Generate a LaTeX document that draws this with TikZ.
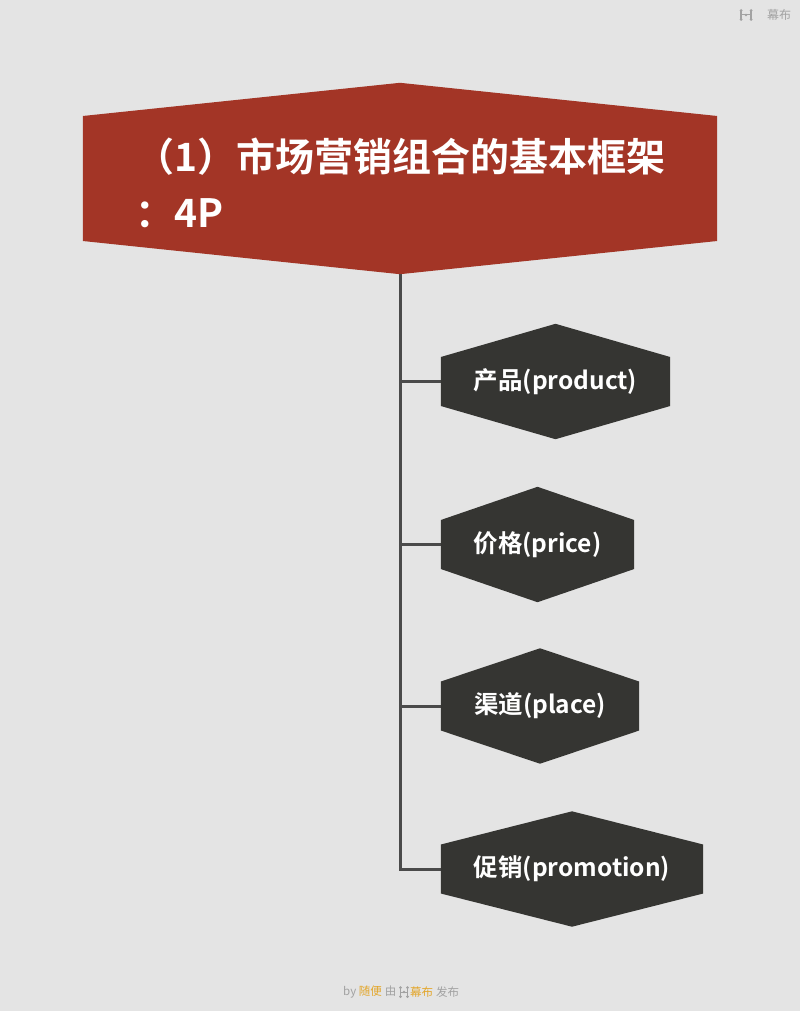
\documentclass[tikz,border=0pt]{standalone}
\usepackage{fontspec}
\setmainfont{Noto Sans CJK SC}
\newfontfamily\cjkb{Noto Sans CJK SC Bold}
\newfontfamily\cjkr{Noto Sans CJK SC}
\definecolor{bgc}{HTML}{E4E4E4}
\definecolor{redc}{HTML}{A33526}
\definecolor{darkc}{HTML}{353532}
\definecolor{linec}{HTML}{4A4A4A}
\definecolor{grayt}{HTML}{A2A2A2}
\definecolor{orangec}{HTML}{E3A62A}
\tikzset{
  child/.style={minimum height=115pt, inner sep=0pt, text=white,
    font={\cjkb\fontsize{24.5}{28}\selectfont}},
  conn/.style={draw=linec, line width=3pt},
}
\newcommand{\hexpath}[2]{% node name, colour
  \fill[#2] ([yshift=24.5pt]#1.west) -- (#1.north) -- ([yshift=24.5pt]#1.east)
    -- ([yshift=-24.5pt]#1.east) -- (#1.south) -- ([yshift=-24.5pt]#1.west) -- cycle;}
\newcommand{\mblogo}[3]{% x y center, half width
  \begin{scope}[shift={(#1,#2)}, grayt]
    \fill (-#3,-4.5) circle (1.5pt); \fill (-#3,4.5) circle (1.5pt);
    \fill (#3,-4.5) circle (1.5pt); \fill (#3,4.5) circle (1.5pt);
    \draw[line width=1.2pt] (-#3,-4.5) -- (-#3,4.5);
    \draw[line width=1.2pt] (#3,-4.5) -- (#3,4.5);
    \fill (0,0) circle (1.4pt);
    \draw[line width=1pt] (-#3,0) -- (#3,0);
  \end{scope}}
\begin{document}
\begin{tikzpicture}[x=1pt, y=-1pt]
\fill[bgc] (0,0) rectangle (800,1011);
\useasboundingbox (0,0) rectangle (800,1011);

% title shape
\node[minimum width=634pt, minimum height=191pt, inner sep=0pt] (top) at (400,178.5) {};
\fill[redc] ([yshift=62.5pt]top.west) -- (top.north) -- ([yshift=62.5pt]top.east)
  -- ([yshift=-62.5pt]top.east) -- (top.south) -- ([yshift=-62.5pt]top.west) -- cycle;
\node[anchor=base west, inner sep=0pt, align=left, text=white,
  font={\cjkb\fontsize{39}{56}\selectfont}] (title) at (135,227.5)
  {（1）市场营销组合的基本框架\\：4P};

% children
\node[child, minimum width=229pt] (p1) at (555.5,381.5) {};
\node[child, minimum width=193pt] (p2) at (537.5,544.5) {};
\node[child, minimum width=198pt] (p3) at (540,706) {};
\node[child, minimum width=262pt] (p4) at (572,869) {};

\draw[conn] (top.south) |- (p1.west);
\draw[conn] (top.south) |- (p2.west);
\draw[conn] (top.south) |- (p3.west);
\draw[conn] (top.south) |- (p4.west);

\hexpath{p1}{darkc}
\hexpath{p2}{darkc}
\hexpath{p3}{darkc}
\hexpath{p4}{darkc}
\node[child] (t1) at (p1.center) {产品(product)};
\node[child] (t2) at (p2.center) {价格(price)};
\node[child] (t3) at (p3.center) {渠道(place)};
\node[child] (t4) at (p4.center) {促销(promotion)};

% watermark top right
\mblogo{746}{15}{5}
\node[anchor=west, inner sep=0pt, text=grayt, font={\cjkr\fontsize{12}{14}\selectfont}] (wm) at (767,15) {幕布};

% footer
\node[anchor=west, inner sep=0pt, font={\cjkr\fontsize{11.5}{14}\selectfont}] (foot1) at (343,992)
  {\textcolor{grayt}{by }\textcolor{orangec}{随便}\textcolor{grayt}{\hspace{3pt}由}};
\mblogo{404}{992}{3.5}
\node[anchor=west, inner sep=0pt, font={\cjkr\fontsize{11.5}{14}\selectfont}] (foot2) at (410,992)
  {\textcolor{orangec}{幕布}\textcolor{grayt}{\hspace{3pt}发布}};
\end{tikzpicture}
\end{document}
